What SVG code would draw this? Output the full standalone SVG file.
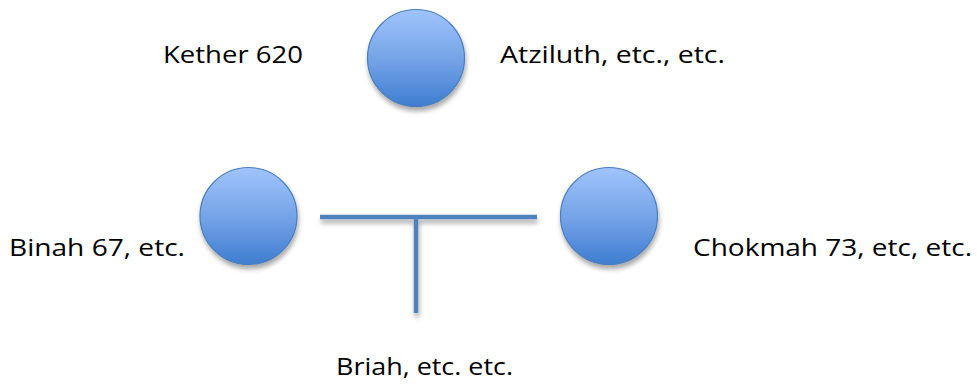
<svg xmlns="http://www.w3.org/2000/svg" width="977" height="384" viewBox="0 0 977 384">
<defs>
<linearGradient id="ball" x1="0" y1="0" x2="0" y2="1">
<stop offset="0" stop-color="#a0c4fb"/>
<stop offset="0.5" stop-color="#76a4e8"/>
<stop offset="1" stop-color="#3f7dd0"/>
</linearGradient>
<filter id="sh" x="-30%" y="-30%" width="160%" height="170%">
<feGaussianBlur in="SourceAlpha" stdDeviation="2.5"/>
<feOffset dx="1" dy="4" result="b"/>
<feComponentTransfer><feFuncA type="linear" slope="0.35"/></feComponentTransfer>
<feMerge><feMergeNode/><feMergeNode in="SourceGraphic"/></feMerge>
</filter>
<filter id="lsh" filterUnits="userSpaceOnUse" x="300" y="200" width="260" height="130">
<feGaussianBlur in="SourceAlpha" stdDeviation="2.5"/>
<feOffset dx="1" dy="4" result="b"/>
<feComponentTransfer><feFuncA type="linear" slope="0.35"/></feComponentTransfer>
<feMerge><feMergeNode/><feMergeNode in="SourceGraphic"/></feMerge>
</filter>
</defs>
<style>
.node circle{fill:url(#ball);stroke:#4a7ebb;stroke-width:1.2;filter:url(#sh)}
.lbl{font-family:"Open Sans","Liberation Sans",sans-serif;font-size:24px;fill:#000}
.conn line{stroke:#4f81bd;stroke-width:4.5}
</style>
<rect width="977" height="384" fill="#fff"/>
<g id="connectors" class="conn" filter="url(#lsh)">
<line x1="320" y1="217" x2="537" y2="217"/>
<line x1="416" y1="217" x2="416" y2="313"/>
</g>
<g id="kether" class="node"><circle cx="416" cy="58" r="48.5"/></g>
<g id="binah" class="node"><circle cx="248.5" cy="216" r="48.5"/></g>
<g id="chokmah" class="node"><circle cx="609" cy="216" r="48.5"/></g>
<g id="labels">
<text class="lbl" x="163" y="63" textLength="140" lengthAdjust="spacingAndGlyphs">Kether 620</text>
<text class="lbl" x="500" y="63" textLength="225" lengthAdjust="spacingAndGlyphs">Atziluth, etc., etc.</text>
<text class="lbl" x="9" y="256" textLength="176" lengthAdjust="spacingAndGlyphs">Binah 67, etc.</text>
<text class="lbl" x="693" y="256" textLength="279" lengthAdjust="spacingAndGlyphs">Chokmah 73, etc, etc.</text>
<text class="lbl" x="336" y="375" textLength="177" lengthAdjust="spacingAndGlyphs">Briah, etc. etc.</text>
</g>
</svg>
